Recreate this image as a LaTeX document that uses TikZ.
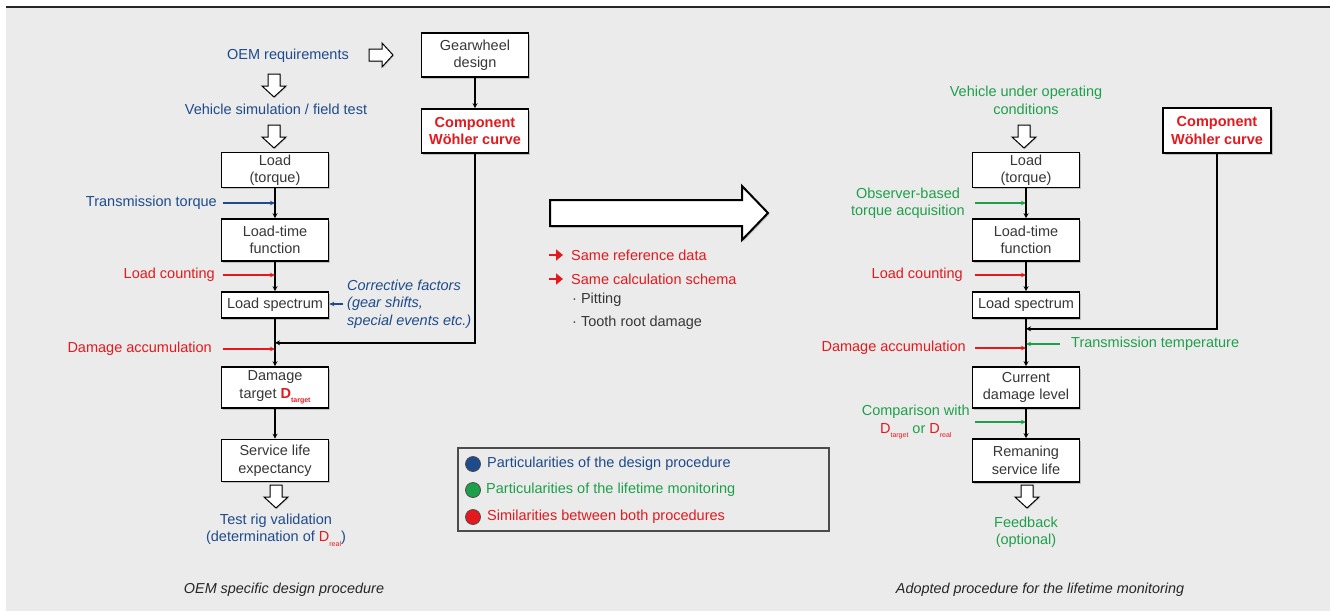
\documentclass[tikz,border=0pt]{standalone}
\usepackage{tikz}
\usepackage{xcolor}
\usepackage{fontspec}
\setmainfont{Liberation Sans}
\usetikzlibrary{arrows.meta, positioning, calc, shadows}
\definecolor{designblue}{RGB}{30,75,140}
\definecolor{monitorgreen}{RGB}{30,160,75}
\definecolor{samered}{RGB}{228,25,30}
\definecolor{boxgray}{RGB}{55,55,55}
\definecolor{backgray}{RGB}{235,235,235}
\newcommand{\flowfont}{\fontsize{14.5}{17.5}\selectfont}
\newcommand{\capfont}{\fontsize{14.4}{17}\selectfont\itshape}
\newcommand{\dsub}[1]{\raisebox{-0.55ex}{\fontsize{7}{7}\selectfont #1}}
\tikzset{
    stepbox/.style={draw=black, line width=1.6pt, fill=white, text=boxgray, font=\flowfont,
        align=center, inner sep=0pt, minimum width=107pt,
        drop shadow={shadow xshift=1.5pt, shadow yshift=-1.5pt, opacity=0.4}},
    redbox/.style={stepbox, text=samered, font=\flowfont\bfseries},
    remark/.style={font=\flowfont, align=center, inner sep=0pt},
    flow/.style={line width=1.5pt, -{Stealth[length=5pt, width=5pt]}},
    feed/.style={line width=1.3pt, -{Stealth[length=5pt, width=4.5pt]}},
    dot/.style={circle, draw=black!70, line width=0.8pt, minimum size=15pt, inner sep=0pt},
    hollowdown/.pic={\draw[line width=1pt, fill=white, drop shadow={shadow xshift=1pt, shadow yshift=-1pt, opacity=0.3}]
        (-6,0) -- (6,0) -- (6,12) -- (12,12) -- (0,23) -- (-12,12) -- (-6,12) -- cycle;},
    hollowright/.pic={\draw[line width=1pt, fill=white, drop shadow={shadow xshift=1pt, shadow yshift=-1pt, opacity=0.3}]
        (0,-6) -- (13,-6) -- (13,-12) -- (24,0) -- (13,12) -- (13,6) -- (0,6) -- cycle;},
    redmark/.pic={\draw[samered, line width=2.6pt, -{Triangle[length=7pt, width=11pt]}] (0,0) -- (14,0);}
}

\begin{document}
\begin{tikzpicture}[x=1pt, y=-1pt]
    \useasboundingbox (0,0) rectangle (1330,611);
    \fill[backgray] (6,7) rectangle (1330,611);
    \draw[line width=1.2pt, black!85] (6,7) -- (1330,7);

    \node[remark, text=designblue] (oem) at (288,56) {OEM requirements};
    \pic at (369,55) {hollowright};
    \pic at (274,74) {hollowdown};
    \node[remark, text=designblue] (sim) at (276,109) {Vehicle simulation / field test};
    \pic at (274,125) {hollowdown};
    \node[stepbox, minimum height=35pt] (load) at (275,170) {Load\\(torque)};
    \node[stepbox, minimum height=42pt] (ltf) at (275,240) {Load-time\\function};
    \node[stepbox, minimum height=26pt] (lspec) at (275,305) {Load spectrum};
    \node[stepbox, minimum height=41pt] (dtarget) at (275,387.5) {Damage\\target {\color{samered}\bfseries D\dsub{target}}};
    \node[stepbox, minimum height=42pt] (slife) at (275,460.5) {Service life\\expectancy};
    \pic at (276,485) {hollowdown};
    \node[remark, text=designblue] (rig) at (276,530) {Test rig validation\\(determination of {\color{samered}D\dsub{real}})};

    \node[stepbox, minimum height=44pt] (gear) at (475,55) {Gearwheel\\design};
    \node[redbox, minimum height=44pt] (wohl) at (475,131) {Component\\Wöhler curve};

    \node[remark, text=designblue, anchor=east] (torq) at (217,203) {Transmission torque};
    \node[remark, text=samered, anchor=east] (lcount) at (215,275) {Load counting};
    \node[remark, text=samered, anchor=east] (dacc) at (212,349) {Damage accumulation};
    \node[remark, text=designblue, anchor=west, align=left, font=\flowfont\itshape] (corr) at (347,304)
        {Corrective factors\\(gear shifts,\\special events etc.)};

    \draw[flow] (gear.south) -- (wohl.north);
    \draw[flow] (load.south) -- (ltf.north);
    \draw[flow] (ltf.south) -- (lspec.north);
    \draw[flow] (lspec.south) -- (dtarget.north);
    \draw[flow] (dtarget.south) -- (slife.north);
    \coordinate (joinl) at ($(lspec.south)+(0,24)$);
    \draw[flow] (wohl.south) |- (joinl);
    \draw[feed, designblue] ([xshift=6pt]torq.east) -- (torq.east -| load.south);
    \draw[feed, samered] ([xshift=8pt]lcount.east) -- (lcount.east -| load.south);
    \draw[feed, samered] ([xshift=11pt]dacc.east) -- (dacc.east -| load.south);
    \draw[feed, designblue] ([xshift=-4pt]corr.west) -- (corr.west -| lspec.east);

    \draw[line width=2pt, fill=white, drop shadow={shadow xshift=1.5pt, shadow yshift=-1.5pt, opacity=0.35}]
        (550,200) -- (742,200) -- (742,186) -- (768,213) -- (742,240) -- (742,226) -- (550,226) -- cycle;
    \pic at (549,255) {redmark};
    \node[remark, text=samered, anchor=west] (sref) at (571,255) {Same reference data};
    \pic at (549,279) {redmark};
    \node[remark, text=samered, anchor=west] (scalc) at (571,279) {Same calculation schema};
    \node[remark, text=boxgray, anchor=west] (pit) at (572,300) {· Pitting};
    \node[remark, text=boxgray, anchor=west] (tooth) at (572,323) {· Tooth root damage};

    \draw[line width=1.1pt, black!70] (458,448) rectangle (829,531);
    \node[dot, fill=designblue] (d1) at (473,464) {};
    \node[remark, text=designblue, anchor=west] (l1) at (487,464) {Particularities of the design procedure};
    \node[dot, fill=monitorgreen] (d2) at (473,490) {};
    \node[remark, text=monitorgreen, anchor=west] (l2) at (486,490) {Particularities of the lifetime monitoring};
    \node[dot, fill=samered] (d3) at (473,517) {};
    \node[remark, text=samered, anchor=west] (l3) at (487,517) {Similarities between both procedures};

    \node[remark, text=monitorgreen] (veh) at (1026,100.5) {Vehicle under operating\\conditions};
    \pic at (1024,125) {hollowdown};
    \node[stepbox, minimum height=35pt] (rload) at (1026,170) {Load\\(torque)};
    \node[stepbox, minimum height=42pt] (rltf) at (1026,240) {Load-time\\function};
    \node[stepbox, minimum height=26pt] (rlspec) at (1026,305) {Load spectrum};
    \node[stepbox, minimum height=41pt] (cdam) at (1026,387.5) {Current\\damage level};
    \node[stepbox, minimum height=43pt] (rem) at (1026,460.5) {Remaning\\service life};
    \pic at (1027,485) {hollowdown};
    \node[remark, text=monitorgreen] (fb) at (1026,532) {Feedback\\(optional)};
    \node[redbox, minimum height=45pt, minimum width=108pt] (rwohl) at (1217,130.5) {Component\\Wöhler curve};

    \node[remark, text=monitorgreen, anchor=east] (obs) at (965,203) {Observer-based\\torque acquisition};
    \node[remark, text=samered, anchor=east] (rlc) at (963,275) {Load counting};
    \node[remark, text=samered, anchor=east] (rdacc) at (966,348) {Damage accumulation};
    \node[remark, text=monitorgreen, anchor=west] (temp) at (1071,344) {Transmission temperature};
    \node[remark, text=monitorgreen, anchor=east] (comp) at (970,422)
        {Comparison with\\{\color{samered}D\dsub{target}} or {\color{samered}D\dsub{real}}};

    \draw[flow] (rload.south) -- (rltf.north);
    \draw[flow] (rltf.south) -- (rlspec.north);
    \draw[flow] (rlspec.south) -- (cdam.north);
    \draw[flow] (cdam.south) -- (rem.north);
    \coordinate (joinr) at ($(rlspec.south)+(0,10)$);
    \draw[flow] (rwohl.south) |- (joinr);
    \draw[feed, monitorgreen] ([xshift=10pt]obs.east) -- (obs.east -| rload.south);
    \draw[feed, samered] ([xshift=12pt]rlc.east) -- (rlc.east -| rload.south);
    \draw[feed, samered] ([xshift=9pt]rdacc.east) -- (rdacc.east -| rload.south);
    \draw[feed, monitorgreen] ([xshift=-11pt]temp.west) -- (temp.west -| rload.south);
    \draw[feed, monitorgreen] ([xshift=5pt]comp.east) -- (comp.east -| rload.south);

    \node[remark, font=\capfont, text=black!85] (capl) at (284,590) {OEM specific design procedure};
    \node[remark, font=\capfont, text=black!85] (capr) at (1040,590) {Adopted procedure for the lifetime monitoring};
\end{tikzpicture}
\end{document}
